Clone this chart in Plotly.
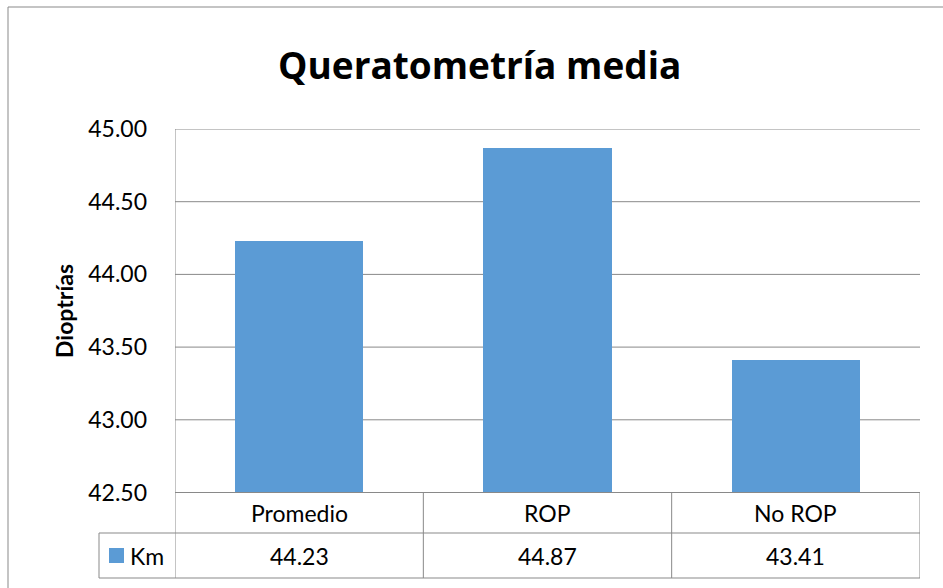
import plotly.graph_objects as go

# Mean keratometry by group (diopters)
categories = ["Promedio", "ROP", "No ROP"]
km_values = [44.23, 44.87, 43.41]
series_name = "Km"
y_ticks = [42.5, 43.0, 43.5, 44.0, 44.5, 45.0]

W, H = 943, 588
BAR_COLOR = "#5B9BD5"
LINE_COLOR = "#898989"
FONT = "Lato"
TEXT_SIZE = 23

# plot area and data-table geometry in pixels
px_left, px_right = 175, 920
px_top, px_bottom = 129, 492.5
row1_bottom, row2_bottom = 533, 578
key_left = 99


def fx(px):
    return px / W


def fy(py):
    return 1 - py / H


fig = go.Figure()
fig.add_trace(go.Bar(
    x=list(range(len(categories))),
    y=km_values,
    width=0.517,
    marker=dict(color=BAR_COLOR, line=dict(width=0)),
    name=series_name,
    showlegend=False,
    hoverinfo="skip",
))

line = dict(color=LINE_COLOR, width=1)
shapes = []
# horizontal gridlines behind the bars
for t in y_ticks[1:]:
    shapes.append(dict(type="line", xref="paper", yref="y", x0=fx(px_left), x1=fx(px_right),
                       y0=t, y1=t, line=line, layer="below"))

# outer chart frame (top and left edges)
shapes.append(dict(type="line", xref="paper", yref="paper", x0=fx(8), x1=1,
                   y0=fy(7), y1=fy(7), line=line))
shapes.append(dict(type="line", xref="paper", yref="paper", x0=fx(8), x1=fx(8),
                   y0=fy(7), y1=0, line=line))

# data table under the plot
n = len(categories)
bounds = [i - 0.5 for i in range(n + 1)]
for b in bounds:
    shapes.append(dict(type="line", xref="x", yref="paper", x0=b, x1=b,
                       y0=fy(px_top if b == bounds[0] else px_bottom), y1=fy(row2_bottom),
                       line=line))
shapes.append(dict(type="line", xref="paper", yref="paper", x0=fx(px_left), x1=fx(px_right),
                   y0=fy(px_bottom), y1=fy(px_bottom), line=line))
for yy in (row1_bottom, row2_bottom):
    shapes.append(dict(type="line", xref="paper", yref="paper", x0=fx(key_left), x1=fx(px_right),
                       y0=fy(yy), y1=fy(yy), line=line))
shapes.append(dict(type="line", xref="paper", yref="paper", x0=fx(key_left), x1=fx(key_left),
                   y0=fy(row1_bottom), y1=fy(row2_bottom), line=line))
# legend key square
shapes.append(dict(type="rect", xref="paper", yref="paper", x0=fx(109), x1=fx(124),
                   y0=fy(563), y1=fy(548), fillcolor=BAR_COLOR, line=dict(width=0)))

annotations = []
row1_mid = (px_bottom + row1_bottom) / 2
row2_mid = (row1_bottom + row2_bottom) / 2
cell_font = dict(size=TEXT_SIZE, color="black", family=FONT)
for i, (cat, val) in enumerate(zip(categories, km_values)):
    annotations.append(dict(x=i, y=fy(row1_mid), xref="x", yref="paper", text=cat,
                            showarrow=False, font=cell_font,
                            xanchor="center", yanchor="middle"))
    annotations.append(dict(x=i, y=fy(row2_mid), xref="x", yref="paper", text=f"{val:.2f}",
                            showarrow=False, font=cell_font,
                            xanchor="center", yanchor="middle"))
annotations.append(dict(x=fx(128), y=fy(row2_mid), xref="paper", yref="paper", text=series_name,
                        showarrow=False, font=cell_font,
                        xanchor="left", yanchor="middle"))
# chart title and value-axis title
annotations.append(dict(x=fx(480), y=fy(64), xref="paper", yref="paper",
                        text="<b>Queratometría media</b>", showarrow=False,
                        font=dict(size=37, color="black", family="Open Sans"),
                        xanchor="center", yanchor="middle"))
annotations.append(dict(x=fx(64), y=fy(311), xref="paper", yref="paper",
                        text="<b>Dioptrías</b>", showarrow=False, textangle=-90,
                        font=dict(size=TEXT_SIZE, color="black", family=FONT),
                        xanchor="center", yanchor="middle"))

fig.update_layout(
    width=W, height=H,
    margin=dict(l=0, r=0, t=0, b=0, pad=0, autoexpand=False),
    paper_bgcolor="white", plot_bgcolor="white",
    font=dict(family=FONT, color="black"),
    shapes=shapes,
    annotations=annotations,
    xaxis=dict(domain=[fx(px_left), fx(px_right)], range=[-0.5, n - 0.5],
               showticklabels=False, showgrid=False, zeroline=False, showline=False,
               automargin=False, fixedrange=True),
    yaxis=dict(domain=[fy(px_bottom), fy(px_top)], range=[y_ticks[0], y_ticks[-1]],
               tickvals=y_ticks,
               ticktext=[f"{t:.2f}" for t in y_ticks],
               tickfont=dict(size=TEXT_SIZE, color="black", family=FONT),
               ticklabelstandoff=27,
               showgrid=False, zeroline=False, showline=False, ticks="",
               automargin=False, fixedrange=True),
    bargap=0,
)

fig.write_html("out.html")
